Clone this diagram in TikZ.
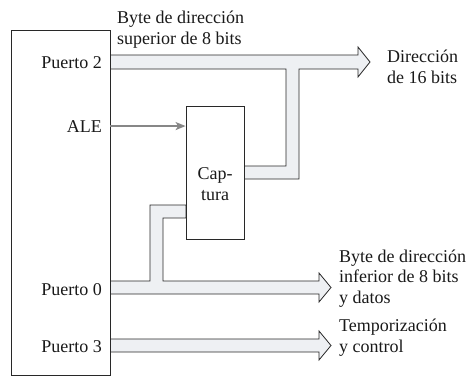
\documentclass[tikz,border=0pt]{standalone}
\usepackage{fontspec}
\setmainfont{Liberation Serif}
\usetikzlibrary{positioning,arrows.meta,calc}
\definecolor{busfill}{RGB}{238,240,243}
\definecolor{lineclr}{RGB}{40,40,40}
\definecolor{alegray}{RGB}{135,135,135}
\tikzset{
  block/.style={draw=lineclr,line width=.8pt,fill=white,inner sep=0pt},
  bus/.style={draw=lineclr,line width=.8pt,fill=busfill,line join=miter},
  lbl/.style={inner sep=0pt,font=\fontsize{18}{20.5}\selectfont,text=black!90},
}

\begin{document}
\begin{tikzpicture}[x=1pt,y=-1pt]
        \useasboundingbox (0,0) rectangle (467,376);
        % buses
        \filldraw[bus] (110,55) -- (358,55) -- (358,47) -- (370,62) -- (358,77) -- (358,69) -- (299,69) -- (299,179) -- (244,179) -- (244,166) -- (286,166) -- (286,69) -- (110,69);
        \filldraw[bus] (110,294) -- (319,294) -- (319,302) -- (331,287.5) -- (319,273) -- (319,281) -- (163,281) -- (163,218) -- (186,218) -- (186,205) -- (150,205) -- (150,281) -- (110,281);
        \filldraw[bus] (110,339) -- (319,339) -- (319,331) -- (331,345.5) -- (319,360) -- (319,352) -- (110,352);
        % blocks
        \node[block,minimum width=99,minimum height=345] (mcu) at (60.5,202.5) {};
        \node[block,minimum width=58,minimum height=133] (latch) at (215,172.5) {};
        \node[lbl,anchor=base,align=center] (latchlbl) at (215,200) {Cap-\\tura};
        % port labels
        \node[lbl,anchor=base east] (pt2) at (102,68) {Puerto 2};
        \node[lbl,anchor=base east] (ale) at (102,132) {ALE};
        \node[lbl,anchor=base east] (pt0) at (102,295) {Puerto 0};
        \node[lbl,anchor=base east] (pt3) at (102,352) {Puerto 3};
        \draw[-{Stealth[length=10pt,width=8pt,inset=2.5pt]},line width=1.7pt,alegray] (mcu.east |- ale) -- (latch.west |- ale);
        % outputs (base = last line)
        \node[lbl,anchor=base west,align=left] (hibyte) at (117,44) {Byte de dirección\\superior de 8 bits};
        \node[lbl,anchor=base west,align=left] (addr) at (387,83) {Dirección\\de 16 bits};
        \node[lbl,anchor=base west,align=left] (lobyte) at (339,303) {Byte de dirección\\inferior de 8 bits\\y datos};
        \node[lbl,anchor=base west,align=left] (timing) at (339,352) {Temporización\\y control};
      \end{tikzpicture}
\end{document}
